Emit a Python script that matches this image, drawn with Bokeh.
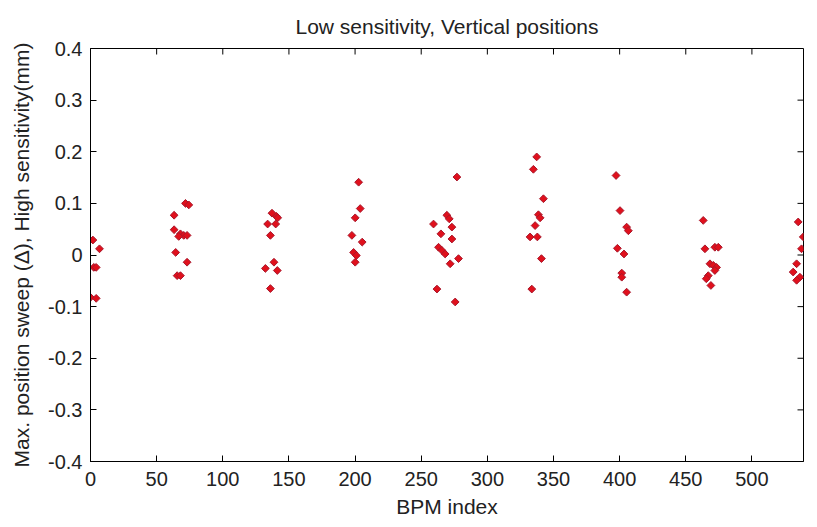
from bokeh.plotting import figure
from bokeh.models import FixedTicker, NumeralTickFormatter, Range1d, ColumnDataSource
from bokeh.embed import file_html
from bokeh.resources import INLINE
import numpy as np

# BPM index (x) and max position sweep delta (y)
bpm_index = [
    1.8, 6.8, 2.5, 4.3, 0.0, 4.3,
    63.2, 63.2, 71.8, 74.3, 68.0, 70.5, 66.7, 73.0, 64.4, 73.0, 65.5, 68.0,
    137.2, 140.5, 133.9, 140.0, 141.5, 136.0, 138.7, 132.2, 141.2, 136.0,
    202.7, 203.9, 200.1, 197.6, 205.4, 198.9, 201.0, 200.1,
    277.0, 269.4, 271.2, 259.3, 273.2, 264.9, 273.2, 263.1, 265.6, 268.1, 278.2, 271.9, 261.9, 275.7,
    337.3, 334.8, 342.4, 338.6, 339.9, 336.1, 332.3, 337.8, 340.9, 333.6,
    397.3, 400.3, 405.3, 406.6, 398.3, 403.3, 401.6, 401.6, 405.3,
    463.2, 464.5, 472.0, 474.6, 468.3, 470.8, 473.3, 472.0, 467.0, 465.5, 469.0,
    535.0, 538.8, 537.5, 533.8, 531.2, 536.3, 533.8,
]
sweep_delta = [
    0.029, 0.012, -0.024, -0.024, -0.082, -0.084,
    0.077, 0.049, 0.100, 0.097, 0.041, 0.038, 0.036, 0.038, 0.005, -0.014, -0.040, -0.040,
    0.081, 0.075, 0.060, 0.060, 0.072, 0.038, -0.014, -0.026, -0.030, -0.065,
    0.141, 0.090, 0.072, 0.038, 0.025, 0.005, -0.001, -0.014,
    0.151, 0.077, 0.070, 0.060, 0.054, 0.041, 0.031, 0.015, 0.009, 0.002, -0.007, -0.017, -0.066, -0.091,
    0.190, 0.166, 0.109, 0.078, 0.072, 0.057, 0.035, 0.035, -0.007, -0.066,
    0.154, 0.086, 0.054, 0.047, 0.013, 0.002, -0.035, -0.043, -0.072,
    0.067, 0.012, 0.015, 0.015, -0.017, -0.020, -0.024, -0.030, -0.040, -0.046, -0.059,
    0.064, 0.035, 0.012, -0.017, -0.033, -0.043, -0.049,
]
x_ticks = [0, 50, 100, 150, 200, 250, 300, 350, 400, 450, 500]
y_ticks = [-0.4, -0.3, -0.2, -0.1, 0.0, 0.1, 0.2, 0.3, 0.4]
x_limits = [0, 539]
y_limits = [-0.4, 0.4]
title_text = "Low sensitivity, Vertical positions"
x_label = "BPM index"
y_label = "Max. position sweep (\u0394), High sensitivity(mm)"

FONT = "Liberation Sans"
TEXT_COLOR = "#222222"

p = figure(width=809, height=519, output_backend="svg", toolbar_location=None,
           x_range=Range1d(*x_limits), y_range=Range1d(*y_limits),
           title=title_text)
p.frame_width = 713
p.frame_height = 413
p.min_border_left = 90
p.min_border_top = 48
p.min_border_bottom = 58
p.min_border_right = 6
p.background_fill_color = "white"
p.border_fill_color = "white"
p.outline_line_color = "black"
p.outline_line_width = 1
p.xgrid.visible = False
p.ygrid.visible = False

p.title.align = "center"
p.title.text_font = FONT
p.title.text_font_size = "21px"
p.title.text_font_style = "normal"
p.title.text_color = TEXT_COLOR
p.title.standoff = 22

src = ColumnDataSource(dict(x=bpm_index, y=sweep_delta))
p.scatter("x", "y", source=src, marker="square", angle=np.pi / 4, size=5.5,
          fill_color="#e0101c", line_color="#a8182c", line_width=1)

# inward ticks on the top and right edges of the box (MATLAB "box on")
p.ray(x=x_ticks, y=[y_limits[1]] * len(x_ticks), length=6, length_units="screen",
      angle=-np.pi / 2, line_color="black", line_width=1)
p.ray(x=[x_limits[1]] * len(y_ticks), y=y_ticks, length=6, length_units="screen",
      angle=np.pi, line_color="black", line_width=1)

for ax in (p.xaxis[0], p.yaxis[0]):
    ax.axis_line_color = "black"
    ax.major_tick_line_color = "black"
    ax.major_tick_in = 6
    ax.major_tick_out = 0
    ax.minor_tick_line_color = None
    ax.major_label_text_font = FONT
    ax.major_label_text_font_size = "20px"
    ax.major_label_text_color = TEXT_COLOR
    ax.axis_label_text_font = FONT
    ax.axis_label_text_font_size = "21px"
    ax.axis_label_text_font_style = "normal"
    ax.axis_label_text_color = TEXT_COLOR

xa = p.xaxis[0]
xa.ticker = FixedTicker(ticks=x_ticks)
xa.axis_label = x_label
xa.major_label_standoff = 10
xa.axis_label_standoff = 6

ya = p.yaxis[0]
ya.ticker = FixedTicker(ticks=y_ticks)
ya.formatter = NumeralTickFormatter(format="0.[0]")
ya.axis_label = y_label
ya.major_label_standoff = 8
ya.axis_label_standoff = 12

open("out.html", "w").write(file_html(p, INLINE))
